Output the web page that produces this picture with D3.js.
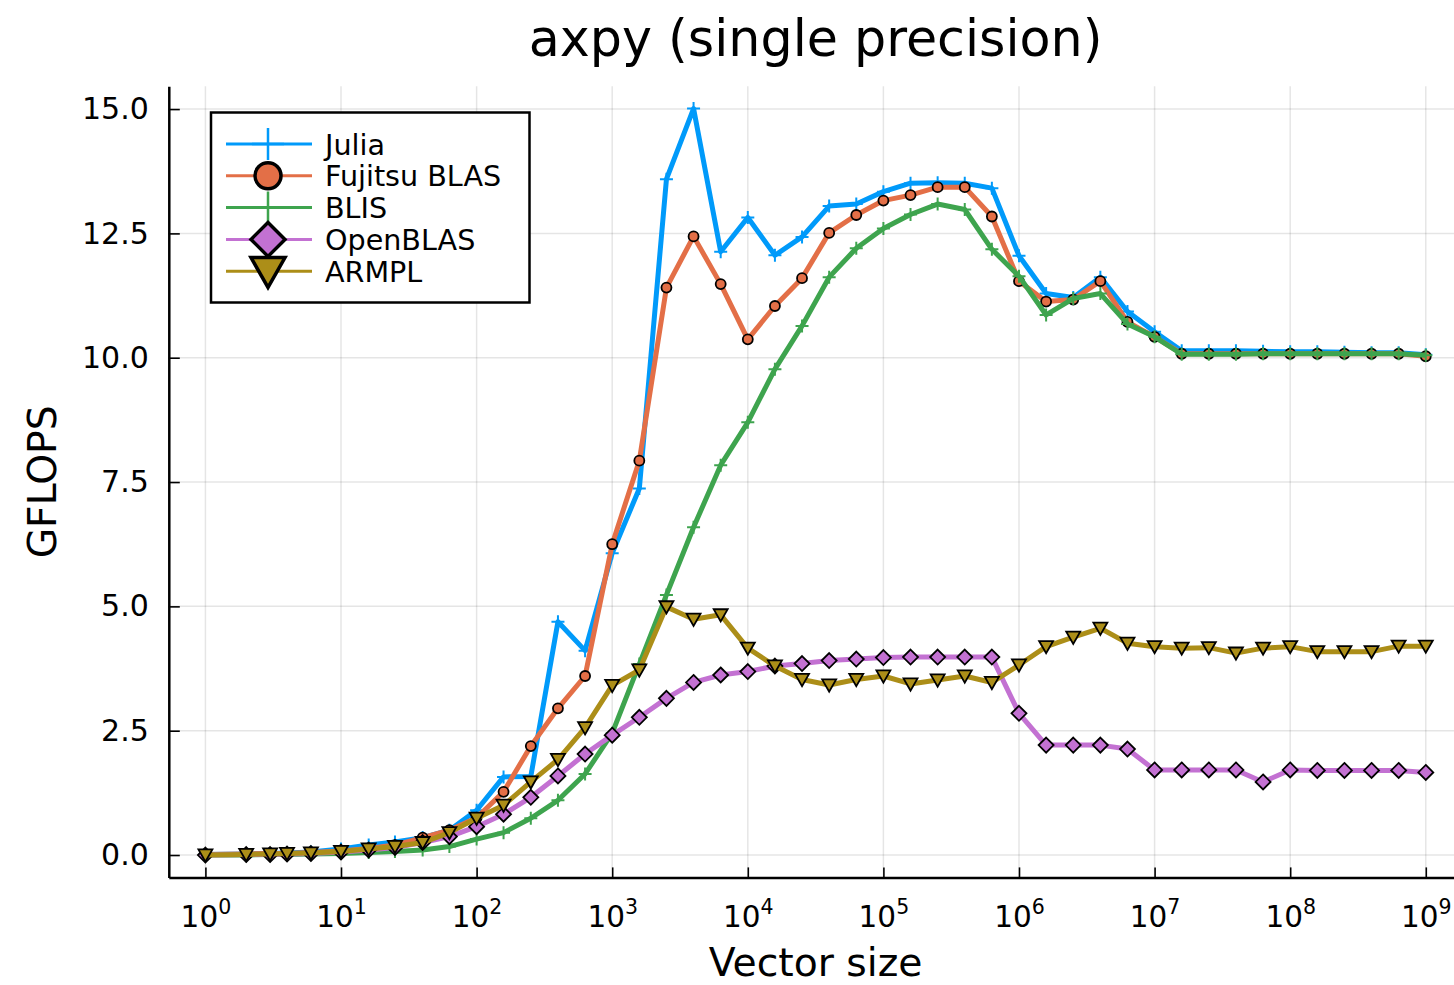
<!DOCTYPE html>
<html>
<head>
<meta charset="UTF-8">
<title>axpy (single precision)</title>
<script src="https://d3js.org/d3.v7.min.js"></script>
<style>
  body { margin: 0; background: #fff; }
  svg { display: block; font-family: "DejaVu Sans", sans-serif; }
</style>
</head>
<body>
<svg id="chart" width="1454" height="985"></svg>
<script>
// vector sizes (x values)
var sizes = [1, 2, 3, 4, 6, 10, 16, 25, 40, 63, 100, 158, 251, 398, 631,
  1000, 1585, 2512, 3981, 6310, 10000, 15849, 25119, 39811, 63096,
  100000, 158489, 251189, 398107, 630957, 1000000, 1584893, 2511886, 3981072, 6309573,
  10000000, 15848932, 25118864, 39810717, 63095734, 100000000, 158489319, 251188643, 398107171, 630957344,
  1000000000];

var julia = [0.01, 0.02, 0.03, 0.04, 0.06, 0.12, 0.2, 0.26, 0.35, 0.5, 0.9, 1.57, 1.58, 4.69, 4.11,
  6.07, 7.37, 13.59, 15.01, 12.13, 12.82, 12.06, 12.43, 13.05, 13.09,
  13.34, 13.51, 13.52, 13.51, 13.41, 12.05, 11.29, 11.21, 11.62, 10.93,
  10.52, 10.14, 10.14, 10.14, 10.13, 10.12, 10.12, 10.11, 10.10, 10.10, 10.06];

var fujitsu = [0.01, 0.02, 0.03, 0.03, 0.05, 0.08, 0.13, 0.2, 0.35, 0.5, 0.75, 1.27, 2.19, 2.95, 3.6,
  6.25, 7.93, 11.41, 12.44, 11.48, 10.37, 11.04, 11.6, 12.51, 12.87,
  13.16, 13.27, 13.43, 13.43, 12.84, 11.54, 11.13, 11.17, 11.54, 10.72,
  10.42, 10.08, 10.08, 10.08, 10.08, 10.08, 10.08, 10.08, 10.08, 10.08, 10.03];

var blis = [0.0, 0.0, 0.01, 0.01, 0.02, 0.03, 0.05, 0.07, 0.1, 0.17, 0.32, 0.45, 0.74, 1.1, 1.63,
  2.45, 3.84, 5.23, 6.59, 7.84, 8.7, 9.77, 10.64, 11.62, 12.2,
  12.6, 12.88, 13.09, 12.98, 12.18, 11.64, 10.86, 11.19, 11.29, 10.68,
  10.42, 10.07, 10.07, 10.07, 10.08, 10.08, 10.08, 10.08, 10.08, 10.08, 10.05];

var openblas = [0.0, 0.01, 0.01, 0.02, 0.03, 0.06, 0.1, 0.15, 0.25, 0.37, 0.57, 0.82, 1.16, 1.59, 2.03,
  2.41, 2.77, 3.15, 3.47, 3.62, 3.69, 3.8, 3.85, 3.91, 3.94,
  3.97, 3.98, 3.98, 3.98, 3.98, 2.85, 2.21, 2.21, 2.21, 2.13,
  1.71, 1.71, 1.71, 1.71, 1.47, 1.71, 1.7, 1.7, 1.7, 1.7, 1.66];

var armpl = [0.0, 0.01, 0.02, 0.03, 0.04, 0.07, 0.12, 0.17, 0.25, 0.45, 0.74, 1.0, 1.47, 1.92, 2.56,
  3.41, 3.72, 4.99, 4.74, 4.83, 4.16, 3.8, 3.53, 3.42, 3.53,
  3.6, 3.44, 3.52, 3.6, 3.47, 3.82, 4.19, 4.38, 4.56, 4.26,
  4.19, 4.16, 4.17, 4.06, 4.16, 4.19, 4.09, 4.09, 4.09, 4.2, 4.2];

var seriesNames = ["Julia", "Fujitsu BLAS", "BLIS", "OpenBLAS", "ARMPL"];
var seriesValues = [julia, fujitsu, blis, openblas, armpl];
var xTickExps = [0, 1, 2, 3, 4, 5, 6, 7, 8, 9];
var yTicks = [0, 2.5, 5, 7.5, 10, 12.5, 15];

var colors = ["#009AFA", "#E36F47", "#3EA44E", "#C371D2", "#AC8E18"];
var shapes = ["plus", "circle", "plus", "diamond", "dtriangle"];

var svg = d3.select("#chart");

var x = d3.scaleLog().domain([Math.pow(10, -0.27), Math.pow(10, 9.27)]).range([168.8, 1462.4]);
var y = d3.scaleLinear().domain([-0.45, 15.46]).range([877.4, 86.2]);

// grid
svg.append("g").selectAll("line").data(xTickExps).enter().append("line")
  .attr("x1", d => x(Math.pow(10, d))).attr("x2", d => x(Math.pow(10, d)))
  .attr("y1", y.range()[0]).attr("y2", y.range()[1])
  .attr("stroke", "#000").attr("stroke-opacity", 0.1).attr("stroke-width", 1.5);
svg.append("g").selectAll("line").data(yTicks).enter().append("line")
  .attr("x1", x.range()[0]).attr("x2", x.range()[1])
  .attr("y1", d => y(d)).attr("y2", d => y(d))
  .attr("stroke", "#000").attr("stroke-opacity", 0.1).attr("stroke-width", 1.5);

// markers
function markerPath(shape, s) {
  if (shape == "circle") return d3.symbol().type(d3.symbolCircle).size(Math.PI * s * s)();
  if (shape == "diamond") return "M0," + (-s) + "L" + s + ",0L0," + s + "L" + (-s) + ",0Z";
  if (shape == "dtriangle") return "M" + (-s) + "," + (-0.8 * s) + "L" + s + "," + (-0.8 * s) + "L0," + (0.95 * s) + "Z";
  return "M" + (-s) + ",0H" + s + "M0," + (-s) + "V" + s;
}
var plotSize = { circle: 5, diamond: 7.5, dtriangle: 7, plus: 6.5 };

// series
var line = d3.line().x((d, i) => x(sizes[i])).y(d => y(d));
seriesValues.forEach(function(vals, si) {
  var g = svg.append("g");
  g.append("path").datum(vals).attr("d", line)
    .attr("fill", "none").attr("stroke", colors[si]).attr("stroke-width", 5)
    .attr("stroke-linejoin", "round");
  var shape = shapes[si];
  g.selectAll("path.m").data(vals).enter().append("path").attr("class", "m")
    .attr("transform", (d, i) => "translate(" + x(sizes[i]) + "," + y(d) + ")")
    .attr("d", markerPath(shape, plotSize[shape]))
    .attr("fill", shape == "plus" ? "none" : colors[si])
    .attr("stroke", shape == "plus" ? colors[si] : "#000")
    .attr("stroke-width", shape == "plus" ? 2 : 1.8)
    .attr("stroke-linejoin", "miter");
});

// axes
var yAxis = d3.axisLeft(y).tickValues(yTicks).tickSizeInner(-11).tickSizeOuter(0)
  .tickPadding(20).tickFormat(d3.format(".1f"));
var gy = svg.append("g").attr("transform", "translate(" + x.range()[0] + ",0)").call(yAxis);
gy.selectAll("text").attr("font-size", 30).attr("font-family", "DejaVu Sans").attr("fill", "#000");

var xAxis = d3.axisBottom(x).tickValues(xTickExps.map(e => Math.pow(10, e)))
  .tickSizeInner(-10).tickSizeOuter(0).tickFormat("");
var gx = svg.append("g").attr("transform", "translate(0," + y.range()[0] + ")").call(xAxis);
gx.selectAll(".tick").append("text")
  .attr("y", 50).attr("fill", "#000").attr("text-anchor", "middle")
  .attr("font-size", 29.5).attr("font-family", "DejaVu Sans")
  .each(function(d) {
    var t = d3.select(this);
    t.append("tspan").text("10");
    t.append("tspan").attr("dy", -13).attr("font-size", 20.5).text(Math.round(Math.log10(d)));
  });

[gx, gy].forEach(function(g) {
  g.select(".domain").attr("stroke", "#000").attr("stroke-width", 2.5);
  g.selectAll(".tick line").attr("stroke", "#000").attr("stroke-width", 1.6);
});

// titles
svg.append("text").attr("x", 815.6).attr("y", 56).attr("text-anchor", "middle")
  .attr("font-size", 50.7).text("axpy (single precision)");
svg.append("text").attr("x", 815.6).attr("y", 976).attr("text-anchor", "middle")
  .attr("font-size", 39.3).text("Vector size");
svg.append("text").attr("transform", "translate(56,481.8) rotate(-90)").attr("text-anchor", "middle")
  .attr("font-size", 39.3).text("GFLOPS");

// legend
var leg = svg.append("g");
leg.append("rect").attr("x", 211).attr("y", 112.5).attr("width", 318.5).attr("height", 190)
  .attr("fill", "#fff").attr("stroke", "#000").attr("stroke-width", 2.5);
var legSize = { circle: 13, diamond: 17, dtriangle: 17, plus: 16 };
seriesNames.forEach(function(name, si) {
  var ry = 144 + si * 31.8;
  var shape = shapes[si];
  leg.append("line").attr("x1", 226).attr("x2", 312).attr("y1", ry).attr("y2", ry)
    .attr("stroke", colors[si]).attr("stroke-width", 3);
  leg.append("path").attr("transform", "translate(268," + ry + ")")
    .attr("d", markerPath(shape, legSize[shape]))
    .attr("fill", shape == "plus" ? "none" : colors[si])
    .attr("stroke", shape == "plus" ? colors[si] : "#000")
    .attr("stroke-width", shape == "plus" ? 2.5 : 3.5);
  leg.append("text").attr("x", 325).attr("y", ry + 10.5).attr("font-size", 28.6).text(name);
});
</script>
</body>
</html>
